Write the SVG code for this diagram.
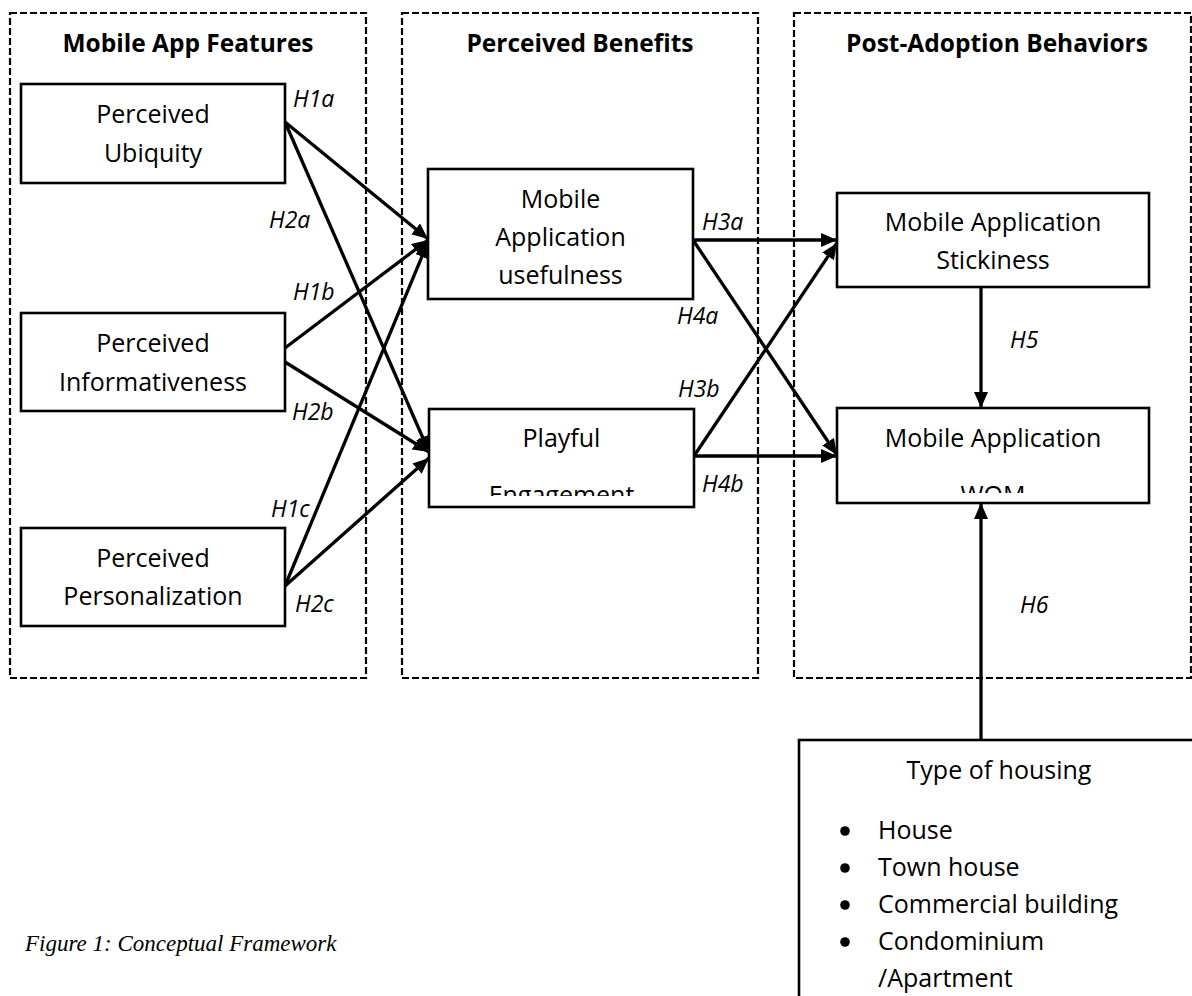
<svg xmlns="http://www.w3.org/2000/svg" width="1192" height="996" viewBox="0 0 1192 996">
<style>
.bg{fill:#fff}
.zone{fill:none;stroke:#000;stroke-width:2.2;stroke-dasharray:7 3}
.box{fill:#fff;stroke:#000;stroke-width:2.6}
.t{font-family:"Open Sans","Liberation Sans",sans-serif;font-size:25px;fill:#000;text-anchor:middle}
.h{font-family:"Open Sans","Liberation Sans",sans-serif;font-size:24.5px;font-weight:bold;fill:#000;text-anchor:middle}
.lab{font-family:"Open Sans","Liberation Sans",sans-serif;font-size:23px;font-style:italic;fill:#000}
.li{font-family:"Open Sans","Liberation Sans",sans-serif;font-size:25px;fill:#000}
.cap{font-family:"Liberation Serif","Times New Roman",serif;font-size:23px;font-style:italic;fill:#000}
.arr{fill:none;stroke:#000;stroke-width:3.3;marker-end:url(#ah)}
.dot{fill:#000}
</style>
<defs>
<marker id="ah" markerUnits="userSpaceOnUse" markerWidth="17" markerHeight="15" refX="16" refY="7" orient="auto">
<path d="M0,0 L16,7 L0,14 Z" fill="#000"/>
</marker>
<clipPath id="clipPE"><rect x="429" y="409" width="265" height="87"/></clipPath>
<clipPath id="clipWOM"><rect x="837" y="408" width="312" height="85"/></clipPath>
</defs>
<rect class="bg" x="0" y="0" width="1192" height="996"/>
<g id="zones">
<rect class="zone" x="10" y="13" width="356" height="665"/>
<text class="h" x="188" y="52">Mobile App Features</text>
<rect class="zone" x="402" y="13" width="356" height="665"/>
<text class="h" x="580" y="52">Perceived Benefits</text>
<rect class="zone" x="794" y="13" width="397" height="665"/>
<text class="h" x="997" y="52">Post-Adoption Behaviors</text>
</g>
<g id="connectors">
<line class="arr" x1="285" y1="122" x2="428" y2="239"/>
<line class="arr" x1="285" y1="122" x2="429" y2="452"/>
<line class="arr" x1="285" y1="348" x2="428" y2="240"/>
<line class="arr" x1="285" y1="362" x2="429" y2="452"/>
<line class="arr" x1="285" y1="586" x2="428" y2="242"/>
<line class="arr" x1="285" y1="586" x2="429" y2="458"/>
<line class="arr" x1="693" y1="240" x2="837" y2="240"/>
<line class="arr" x1="693" y1="240" x2="837" y2="455"/>
<line class="arr" x1="694" y1="456" x2="837" y2="243"/>
<line class="arr" x1="694" y1="456" x2="837" y2="456"/>
<line class="arr" x1="981" y1="287" x2="981" y2="408"/>
<line class="arr" x1="981" y1="740" x2="981" y2="503"/>
</g>
<g id="labels">
<text class="lab" x="293" y="107">H1a</text>
<text class="lab" x="269" y="228">H2a</text>
<text class="lab" x="293" y="300">H1b</text>
<text class="lab" x="292" y="420">H2b</text>
<text class="lab" x="271" y="517">H1c</text>
<text class="lab" x="295" y="612">H2c</text>
<text class="lab" x="702" y="230">H3a</text>
<text class="lab" x="677" y="324">H4a</text>
<text class="lab" x="678" y="397">H3b</text>
<text class="lab" x="702" y="492">H4b</text>
<text class="lab" x="1010" y="348">H5</text>
<text class="lab" x="1020" y="613">H6</text>
</g>
<g id="node-ubiquity">
<rect class="box" x="21" y="84" width="264" height="99"/>
<text class="t" x="153" y="123">Perceived</text>
<text class="t" x="153" y="162">Ubiquity</text>
</g>
<g id="node-informativeness">
<rect class="box" x="21" y="313" width="264" height="98"/>
<text class="t" x="153" y="352">Perceived</text>
<text class="t" x="153" y="391">Informativeness</text>
</g>
<g id="node-personalization">
<rect class="box" x="21" y="528" width="264" height="98"/>
<text class="t" x="153" y="567">Perceived</text>
<text class="t" x="153" y="605">Personalization</text>
</g>
<g id="node-usefulness">
<rect class="box" x="428" y="169" width="265" height="130"/>
<text class="t" x="560.5" y="208">Mobile</text>
<text class="t" x="560.5" y="246">Application</text>
<text class="t" x="560.5" y="284">usefulness</text>
</g>
<g id="node-playful">
<rect class="box" x="429" y="409" width="265" height="98"/>
<text class="t" x="561.5" y="447">Playful</text>
<text class="t" x="561.5" y="504" clip-path="url(#clipPE)">Engagement</text>
</g>
<g id="node-stickiness">
<rect class="box" x="837" y="193" width="312" height="94"/>
<text class="t" x="993" y="231">Mobile Application</text>
<text class="t" x="993" y="269">Stickiness</text>
</g>
<g id="node-wom">
<rect class="box" x="837" y="408" width="312" height="95"/>
<text class="t" x="993" y="447">Mobile Application</text>
<text class="t" x="993" y="504" clip-path="url(#clipWOM)">WOM</text>
</g>
<g id="node-housing">
<rect class="box" x="799" y="740" width="420" height="300"/>
<text class="t" x="999" y="779">Type of housing</text>
<circle class="dot" cx="845" cy="831" r="4.8"/>
<text class="li" x="878" y="839">House</text>
<circle class="dot" cx="845" cy="868" r="4.8"/>
<text class="li" x="878" y="876">Town house</text>
<circle class="dot" cx="845" cy="905" r="4.8"/>
<text class="li" x="878" y="913">Commercial building</text>
<circle class="dot" cx="845" cy="942" r="4.8"/>
<text class="li" x="878" y="950">Condominium</text>
<text class="li" x="878" y="987">/Apartment</text>
</g>
<g id="caption">
<text class="cap" x="25" y="951">Figure 1: Conceptual Framework</text>
</g>
</svg>
